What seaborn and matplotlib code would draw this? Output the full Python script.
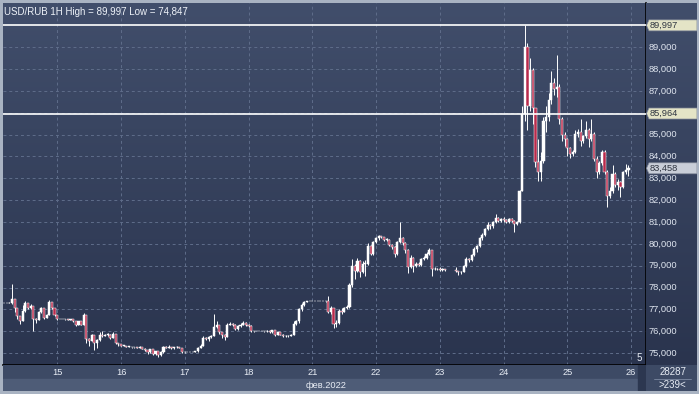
import numpy as np
import pandas as pd
import matplotlib
matplotlib.use("Agg")
import matplotlib.pyplot as plt
import seaborn as sns
from matplotlib.colors import LinearSegmentedColormap
from matplotlib.patches import Rectangle, Polygon

# hourly USD/RUB candles, 14 Feb (from 04:00) to 25 Feb 2022
close = [
    # 14
    77.29, 77.29, 77.30, 77.50, 77.05, 76.70, 76.45, 76.95, 77.30, 77.05,
    77.15, 76.55, 76.50, 76.90, 77.05, 76.60, 76.75, 77.35, 77.05, 76.75,
    # 15
    76.55, 76.55, 76.55, 76.55, 76.53, 76.55, 76.45, 76.30, 76.45, 76.30, 76.75, 75.65,
    75.55, 75.85, 75.45, 75.60, 75.85, 75.80, 75.85, 75.85, 75.70, 75.90, 75.45, 75.40,
    # 16
    75.35, 75.35, 75.30, 75.30, 75.28, 75.28, 75.25, 75.30, 75.20, 75.15, 75.05, 75.18,
    74.95, 75.10, 74.90, 75.05, 75.30, 75.25, 75.30, 75.22, 75.28, 75.30, 75.25, 75.05,
    # 17
    75.05, 75.05, 75.05, 75.05, 75.08, 75.25, 75.35, 75.70, 75.65, 75.75, 75.80, 76.20,
    76.30, 75.95, 75.85, 75.75, 76.30, 76.35, 76.30, 76.10, 76.25, 76.30, 76.40, 76.30,
    # 18
    76.25, 76.02, 76.00, 76.00, 76.00, 76.00, 76.00, 76.02, 75.95, 76.05, 75.85, 75.95,
    75.85, 75.80, 75.78, 75.80, 75.85, 76.35, 76.45, 77.00, 77.20, 77.35, 77.38, 77.38,
    # 21
    77.38, 77.38, 77.38, 77.38, 77.38, 77.38, 76.90, 77.05, 76.35, 76.40, 76.95, 76.90,
    77.05, 77.10, 78.10, 79.00, 78.75, 79.20, 78.70, 79.10, 79.10, 79.90, 79.55, 80.10,
    # 22
    80.25, 80.35, 80.30, 80.20, 80.20, 79.95, 79.85, 79.55, 80.10, 80.25, 80.05, 79.70,
    78.95, 79.35, 79.00, 79.10, 79.05, 79.30, 79.35, 79.55, 79.70, 78.85, 78.85, 78.85,
    # 23
    78.80, 78.85, 78.80, np.nan, np.nan, np.nan, 78.75, 78.70, 78.72, 79.00, 79.30, 79.25,
    79.50, 79.75, 79.90, 80.25, 80.40, 80.70, 80.85, 80.80, 81.00, 81.20, 81.05, 81.15,
    # 24
    81.10, 81.00, 81.15, 81.05, 80.90, 81.00, 82.40, 85.95, 89.00, 86.30, 87.95, 86.20,
    83.75, 83.30, 83.80, 85.60, 85.80, 86.60, 87.35, 87.10, 87.20, 85.70, 85.00, 84.80,
    # 25
    84.40, 84.10, 84.20, 85.05, 85.10, 84.70, 84.95, 85.20, 84.80, 85.05, 83.90, 83.30,
    83.70, 84.20, 83.30, 82.20, 82.40, 83.20, 82.70, 82.85, 82.60, 83.30, 83.40, 83.458,
]
high = [
    77.29, 77.29, 77.35, 78.17, 77.50, 77.05, 76.70, 77.20, 77.40, 77.30,
    77.25, 77.15, 76.60, 76.95, 77.10, 77.05, 76.80, 77.42, 77.35, 77.05,
    76.75, 76.55, 76.55, 76.57, 76.55, 76.56, 76.55, 76.45, 76.48, 76.45, 76.85, 76.75,
    75.70, 75.90, 75.85, 75.65, 75.95, 76.00, 75.90, 75.92, 75.88, 75.95, 75.90, 75.48,
    75.40, 75.36, 75.35, 75.32, 75.30, 75.30, 75.28, 75.35, 75.30, 75.22, 75.15, 75.20,
    75.18, 75.12, 75.10, 75.08, 75.35, 75.32, 75.38, 75.30, 75.30, 75.33, 75.30, 75.26,
    75.06, 75.05, 75.05, 75.06, 75.10, 75.28, 75.40, 75.80, 75.72, 75.80, 75.85, 76.80,
    76.45, 76.30, 75.98, 75.88, 76.40, 76.42, 76.38, 76.32, 76.28, 76.40, 76.45, 76.42,
    76.32, 76.28, 76.03, 76.00, 76.00, 76.00, 76.02, 76.05, 76.05, 76.08, 76.07, 75.98,
    75.98, 75.88, 75.84, 75.84, 75.88, 76.45, 76.50, 77.05, 77.28, 77.40, 77.40, 77.38,
    77.38, 77.38, 77.38, 77.38, 77.38, 77.40, 77.60, 77.15, 77.08, 76.50, 77.00, 77.05,
    77.10, 77.20, 78.20, 79.30, 79.10, 79.35, 79.25, 79.20, 79.25, 80.05, 79.95, 80.15,
    80.30, 80.40, 80.38, 80.32, 80.25, 80.22, 80.00, 79.90, 80.15, 81.00, 80.30, 80.10,
    79.75, 79.50, 79.40, 79.15, 79.15, 79.35, 79.45, 79.65, 79.80, 79.72, 78.95, 78.90,
    78.95, 78.90, 78.86, np.nan, np.nan, np.nan, 78.95, 78.78, 78.75, 79.05, 79.40, 79.35,
    79.55, 79.85, 79.95, 80.30, 80.50, 80.75, 81.00, 80.90, 81.05, 81.35, 81.25, 81.20,
    81.25, 81.15, 81.20, 81.18, 81.10, 81.05, 82.45, 86.30, 89.997, 89.20, 88.50, 88.05,
    86.00, 84.80, 84.20, 85.80, 86.30, 86.90, 87.90, 87.60, 88.65, 87.30, 85.80, 85.10,
    84.85, 84.45, 84.30, 85.20, 85.25, 85.70, 85.00, 85.60, 85.30, 85.70, 85.10, 84.00,
    83.80, 84.30, 84.30, 83.40, 82.60, 83.60, 83.30, 82.95, 82.90, 83.35, 83.65, 83.60,
]
low = [
    77.29, 77.29, 77.28, 77.25, 76.90, 76.55, 76.35, 76.45, 76.90, 77.00,
    77.00, 76.00, 76.40, 76.50, 76.85, 76.55, 76.60, 76.75, 77.00, 76.70,
    76.50, 76.55, 76.55, 76.53, 76.52, 76.52, 76.44, 76.25, 76.28, 76.28, 76.30, 75.45,
    75.35, 75.55, 75.15, 75.25, 75.58, 75.75, 75.78, 75.80, 75.65, 75.68, 75.42, 75.35,
    75.33, 75.33, 75.28, 75.28, 75.26, 75.26, 75.22, 75.24, 75.18, 75.12, 74.95, 75.02,
    74.90, 74.92, 74.847, 74.88, 75.03, 75.22, 75.22, 75.20, 75.20, 75.26, 75.22, 75.03,
    75.03, 75.05, 75.05, 75.04, 75.05, 75.06, 75.22, 75.33, 75.60, 75.55, 75.70, 75.78,
    76.15, 75.90, 75.70, 75.60, 75.72, 76.28, 76.25, 76.05, 76.08, 76.22, 76.28, 76.25,
    76.20, 75.98, 75.98, 76.00, 76.00, 76.00, 75.98, 75.98, 75.92, 75.92, 75.80, 75.82,
    75.82, 75.75, 75.72, 75.74, 75.78, 75.82, 76.30, 76.40, 76.95, 77.15, 77.33, 77.38,
    77.38, 77.38, 77.38, 77.38, 77.38, 77.36, 76.85, 76.80, 76.15, 76.20, 76.35, 76.80,
    76.90, 77.00, 77.05, 78.05, 78.40, 78.70, 78.50, 78.65, 78.55, 79.05, 79.50, 79.50,
    80.05, 80.20, 80.25, 80.15, 80.15, 79.90, 79.75, 79.40, 79.50, 80.05, 79.95, 79.60,
    78.65, 78.90, 78.70, 78.95, 78.98, 79.00, 79.25, 79.30, 79.50, 78.55, 78.80, 78.80,
    78.75, 78.78, 78.78, np.nan, np.nan, np.nan, 78.70, 78.60, 78.62, 78.70, 78.95, 79.15,
    79.20, 79.45, 79.65, 79.85, 80.20, 80.35, 80.65, 80.70, 80.75, 80.95, 81.00, 81.00,
    81.00, 80.95, 80.95, 81.00, 80.55, 80.85, 80.95, 82.50, 85.60, 85.20, 86.10, 85.50,
    83.50, 82.90, 82.90, 83.70, 85.10, 85.60, 86.40, 86.80, 86.70, 85.50, 84.70, 84.50,
    84.00, 83.95, 84.00, 84.15, 84.90, 84.50, 84.60, 84.85, 84.45, 84.70, 83.80, 83.00,
    83.20, 83.60, 83.20, 81.70, 82.10, 82.35, 82.60, 82.45, 82.15, 82.55, 83.20, 83.10,
]
first_open = 77.29
day_labels = ["15", "16", "17", "18", "21", "22", "23", "24", "25", "26"]
price_ticks = [75, 76, 77, 78, 79, 80, 81, 82, 83, 84, 85, 87, 88, 89]
level_high = 89.997
level_mid = 85.964
last_price = 83.458
title = "USD/RUB 1H High = 89,997 Low = 74,847"

df = pd.DataFrame({"close": close, "high": high, "low": low})
df["pos"] = np.arange(1, len(df) + 1)
df["open"] = df["close"].ffill().shift(1).fillna(first_open)
df = df.dropna().reset_index(drop=True)
df["high"] = df[["high", "open", "close"]].max(axis=1)
df["low"] = df[["low", "open", "close"]].min(axis=1)
df["bottom"] = df[["open", "close"]].min(axis=1)
df["height"] = (df["close"] - df["open"]).abs().clip(lower=0.015)
bull = df["close"] >= df["open"]

day_pos = [21 + 24 * i for i in range(len(day_labels))]

sns.set_theme(style="dark")
plt.rcParams["font.family"] = ["Liberation Sans", "DejaVu Sans"]

W, H = 699, 394
fig = plt.figure(figsize=(W / 100, H / 100), dpi=100, facecolor="#a9b3c2")


def gradient(ax, top, bottom):
    cmap = LinearSegmentedColormap.from_list("bg", [bottom, top])
    ax.imshow(np.linspace(0, 1, 256).reshape(-1, 1), cmap=cmap, aspect="auto",
              extent=[0, 1, 0, 1], transform=ax.transAxes, origin="lower", zorder=0)


def fig_box(x0, y0, x1, y1):
    # pixel box (top-left origin) -> figure fraction
    return [x0 / W, 1 - y1 / H, (x1 - x0) / W, (y1 - y0) / H]


def fmt(v):
    return f"{v:.3f}".replace(".", ",")


xlim = (0.6, 242.6)
ylim = (74.46, 91.02)
px_price = (ylim[1] - ylim[0]) / 362  # price units per pixel

ax = fig.add_axes(fig_box(3, 3, 646, 365))
gradient(ax, "#414e6b", "#2a344e")
ax.set_xlim(*xlim)
ax.set_ylim(*ylim)
ax.set_xticks(day_pos)
ax.set_yticks(list(range(75, 90)))
ax.grid(True, color="#5f6d8a", linestyle=(0, (3, 3)), linewidth=0.7)
ax.tick_params(left=False, bottom=False, labelleft=False, labelbottom=False)
for side in ["top", "left"]:
    ax.spines[side].set_visible(False)
for side in ["bottom", "right"]:
    ax.spines[side].set_color("black")
    ax.spines[side].set_linewidth(1.2)

ax.vlines(df["pos"], df["low"], df["high"], color="white", linewidth=0.7, zorder=3)
ax.bar(df["pos"][bull], df["height"][bull], bottom=df["bottom"][bull], width=0.8,
       color="white", edgecolor="white", linewidth=0.35, zorder=4)
ax.bar(df["pos"][~bull], df["height"][~bull], bottom=df["bottom"][~bull], width=0.8,
       color="#b82a4b", edgecolor="white", linewidth=0.35, zorder=4)
ax.axhline(level_high, color="white", linewidth=1.2, zorder=5)
ax.axhline(level_mid, color="white", linewidth=1.2, zorder=5)
ax.text(0.002, 0.99, title, transform=ax.transAxes, ha="left", va="top",
        fontsize=7, color="#eef2f8", zorder=6)
ax.text(0.993, 0.005, "5", transform=ax.transAxes, ha="right", va="bottom",
        fontsize=7, color="#e6ebf3", zorder=6)

# price scale on the right
ax_r = fig.add_axes(fig_box(646, 3, 697, 365))
gradient(ax_r, "#414e6b", "#2a344e")
ax_r.set_xlim(0, 51)
ax_r.set_ylim(*ylim)
ax_r.axis("off")
for p in price_ticks:
    ax_r.text(3, p, fmt(p), ha="left", va="center", fontsize=6.7, color="#dfe5ef")
for p, fc in [(level_high, "#e4e4c6"), (level_mid, "#e4e4c6"), (last_price, "#c9ced8")]:
    hh = 5.5 * px_price
    ax_r.add_patch(Polygon([(0.5, p), (3, p + hh), (51, p + hh), (51, p - hh), (3, p - hh)],
                           closed=True, fc=fc, ec="#7f8696", lw=0.5, zorder=3))
    ax_r.text(3.2, p, fmt(p), ha="left", va="center", fontsize=6.7, color="#2e3440", zorder=4)

# date strip
ax_b = fig.add_axes(fig_box(3, 365, 646, 391))
ax_b.set_xlim(*xlim)
ax_b.set_ylim(0, 1)
ax_b.axis("off")
ax_b.add_patch(Rectangle((0, 0.46), 1, 0.54, transform=ax_b.transAxes, color="#3d4a65"))
ax_b.add_patch(Rectangle((0, 0), 1, 0.46, transform=ax_b.transAxes, color="#4e5c77"))
ax_b.add_patch(Rectangle((0.988, 0), 0.012, 1, transform=ax_b.transAxes, color="#2c3750"))
for p, lab in zip(day_pos, day_labels):
    ax_b.text(p, 0.72, lab, ha="center", va="center", fontsize=6.7, color="#e8edf5")
ax_b.text(0.502, 0.22, "фев.2022", transform=ax_b.transAxes, ha="center", va="center",
          fontsize=6.7, color="#e8edf5")

# corner box
ax_c = fig.add_axes(fig_box(646, 365, 697, 391))
ax_c.set_xlim(0, 1)
ax_c.set_ylim(0, 1)
ax_c.axis("off")
ax_c.add_patch(Rectangle((0, 0), 1, 1, transform=ax_c.transAxes, color="#3d4a65"))
ax_c.plot([0.15, 0.88], [0.46, 0.46], color="#7d8aa2", linewidth=0.6)
ax_c.text(0.52, 0.72, "28287", ha="center", va="center", fontsize=7, color="#e8edf5")
ax_c.text(0.52, 0.22, ">239<", ha="center", va="center", fontsize=7, color="#e8edf5")

fig.savefig("out.png", dpi=100, facecolor=fig.get_facecolor())
